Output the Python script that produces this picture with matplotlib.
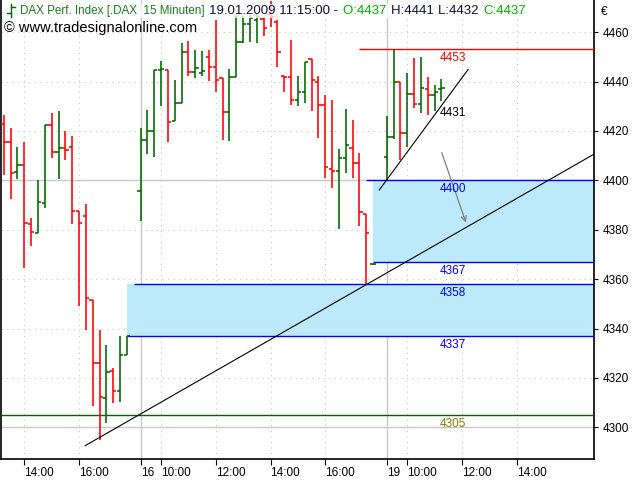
import matplotlib
matplotlib.use("Agg")
import matplotlib.pyplot as plt
from matplotlib.lines import Line2D

# 15-minute slots: 0 = 15.01. 13:15, one empty slot at each day break
slot = [0, 1, 2, 3, 4, 5, 6, 7, 8, 9, 10, 11, 12, 13, 14, 15, 16, 17, 18,
        20, 21, 22, 23, 24, 25, 26, 27, 28, 29, 30, 31, 32, 33, 34, 35, 36, 37,
        38, 39, 40, 41, 42, 43, 44, 45, 46, 47, 48, 49, 50, 51, 52, 53, 54,
        56, 57, 58, 59, 60, 61, 62, 63, 64]
opens = [4422.8, 4415.6, 4403.4, 4406.1, 4382.3, 4378.5, 4390.7, 4422.4, 4411.3, 4413.0,
         4413.4, 4387.6, 4385.7, 4351.5, 4325.9, 4311.7, 4322.9, 4314.7, 4329.3,
         4395.7, 4416.3, 4420.0, 4444.7, 4444.7, 4424.1, 4431.2, 4451.8, 4443.7, 4443.6,
         4450.0, 4445.7, 4441.3, 4427.5, 4441.7, 4456.1, 4463.3, 4464.9, 4465.3, 4467.3,
         4464.1, 4442.4, 4441.8, 4432.5, 4435.9, 4449.1, 4439.8, 4430.5, 4404.5, 4403.8,
         4408.9, 4413.1, 4407.1, 4386.2, 4366.0,
         4409.3, 4417.4, 4439.9, 4419.0, 4434.9, 4430.9, 4436.8, 4434.5, 4436.8]
highs = [4426.4, 4421.1, 4413.4, 4415.6, 4384.6, 4400.1, 4422.4, 4427.4, 4428.1, 4420.0,
         4417.9, 4387.6, 4390.3, 4351.5, 4339.4, 4333.3, 4323.9, 4337.0, 4337.0,
         4421.1, 4428.5, 4444.7, 4448.3, 4444.7, 4440.6, 4455.5, 4456.4, 4452.8, 4452.3,
         4452.8, 4464.9, 4441.3, 4445.1, 4466.9, 4466.5, 4466.9, 4467.3, 4466.1, 4472.6,
         4464.9, 4442.4, 4456.8, 4442.2, 4447.8, 4449.1, 4442.2, 4434.5, 4432.5, 4412.7,
         4428.9, 4424.4, 4411.2, 4386.2, 4366.2,
         4426.0, 4453.0, 4439.9, 4443.3, 4449.4, 4450.0, 4441.7, 4438.6, 4441.0]
lows = [4402.1, 4392.4, 4400.5, 4364.6, 4373.5, 4378.5, 4388.9, 4409.1, 4400.5, 4408.2,
        4382.3, 4349.1, 4339.4, 4308.6, 4294.9, 4301.9, 4309.7, 4310.4, 4329.3,
        4383.6, 4410.6, 4409.6, 4430.1, 4415.6, 4424.1, 4431.2, 4442.3, 4441.3, 4442.2,
        4440.2, 4435.9, 4416.3, 4416.0, 4441.7, 4455.5, 4455.9, 4455.7, 4458.5, 4461.9,
        4445.9, 4435.9, 4430.5, 4430.1, 4431.2, 4428.1, 4417.0, 4400.8, 4397.0, 4380.2,
        4402.8, 4400.9, 4381.6, 4357.5, 4365.8,
        4400.1, 4416.7, 4408.2, 4413.6, 4429.1, 4427.4, 4426.4, 4428.2, 4432.0]
closes = [4415.6, 4402.8, 4406.1, 4382.6, 4378.9, 4391.1, 4422.4, 4411.3, 4413.0, 4412.1,
          4387.6, 4382.6, 4352.2, 4325.9, 4312.1, 4322.5, 4314.7, 4329.3, 4337.0,
          4416.3, 4420.0, 4444.7, 4445.1, 4423.7, 4431.2, 4451.8, 4443.7, 4445.6, 4444.1,
          4445.7, 4440.6, 4427.5, 4441.7, 4456.1, 4463.3, 4465.7, 4466.1, 4461.7, 4466.1,
          4451.8, 4442.0, 4432.5, 4435.9, 4447.8, 4440.6, 4430.5, 4405.5, 4403.8, 4408.9,
          4414.3, 4407.2, 4387.3, 4378.5, 4366.1,
          4417.4, 4439.9, 4419.0, 4434.9, 4430.9, 4437.2, 4434.5, 4435.9, 4437.2]

tick_slots = [3, 11, 20, 23, 31, 39, 47, 56, 59, 67, 75]
tick_labels = ["14:00", "16:00", "16", "10:00", "12:00", "14:00", "16:00",
               "19", "10:00", "12:00", "14:00"]
day_slots = [20, 56]
price_ticks = [4300, 4320, 4340, 4360, 4380, 4400, 4420, 4440, 4460]

# drawn levels
zone_top = [4400, 4358]
zone_bottom = [4367, 4337]
zone_from = [54, 18]
line_prices = [4400, 4367, 4358, 4337]
line_from = [53, 54, 19, 18]
resist_price = 4453
resist_from = 52
support_price = 4305
label_slot = 63.8
trend_long = ([11.9, 86.3], [4292.6, 4410.6])
trend_short = ([54.9, 67.9], [4396.1, 4444.9])
arrow_from = (63.9, 4412.3)
arrow_to = (67.7, 4381.9)

RED = "#FF0000"
GREEN = "#006400"
BLUE = "#0000FF"
ZONE = "#BDEAFA"
GRID = "#C8C8C8"
FONT = "Liberation Sans"

plt.rcParams.update({"font.family": FONT, "font.size": 8})

fig = plt.figure(figsize=(6.4, 4.8), dpi=100)
ax = fig.add_axes([1 / 640, 21 / 480, 593 / 640, 459 / 480])
x0, x1 = -0.41, 86.3
ax.set_xlim(x0, x1)
ax.set_ylim(4287.2, 4473.0)

# grid
for s in tick_slots:
    if s in day_slots:
        ax.axvline(s, color=GRID, lw=1, zorder=0)
    else:
        ax.axvline(s, color=GRID, lw=0.8, ls=(0, (1, 4)), zorder=0)
for p in price_ticks:
    if p % 100 == 0:
        ax.axhline(p, color=GRID, lw=1, zorder=0)
    else:
        ax.axhline(p, color=GRID, lw=0.8, ls=(0, (1, 4)), zorder=0)

# zones and levels
for top, bot, s in zip(zone_top, zone_bottom, zone_from):
    ax.fill_between([s, x1], bot, top, color=ZONE, lw=0, zorder=1)
for p, s in zip(line_prices, line_from):
    ax.hlines(p, s, x1, color=BLUE, lw=1, zorder=3)
ax.hlines(resist_price, resist_from, x1, color=RED, lw=1, zorder=3)
ax.axhline(support_price, color=GREEN, lw=1, zorder=3)

# OHLC bars
w = 0.47
for s, o, h, l, c in zip(slot, opens, highs, lows, closes):
    col = GREEN if c >= o else RED
    ax.vlines(s, l, h, color=col, lw=1.15, zorder=4)
    ax.hlines(o, s - w, s, color=col, lw=1.15, zorder=4)
    ax.hlines(c, s, s + w, color=col, lw=1.15, zorder=4)

# trend lines and arrow
ax.plot(*trend_long, color="black", lw=0.8, zorder=5)
ax.plot(*trend_short, color="black", lw=0.8, zorder=5)
ax.annotate("", xy=arrow_to, xytext=arrow_from, zorder=5,
            arrowprops=dict(arrowstyle="->", color="#808080", lw=0.9,
                            mutation_scale=9))

# level labels
labels = [("4453", resist_price, RED), ("4431", 4431, "black"),
          ("4400", 4400, BLUE), ("4367", 4367, BLUE), ("4358", 4358, BLUE),
          ("4337", 4337, BLUE), ("4305", support_price, "#808000")]
for txt, p, col in labels:
    ax.annotate(txt, xy=(label_slot, p), xytext=(0, -2), textcoords="offset points",
                ha="left", va="top", color=col, fontsize=8.5, zorder=6)

# axes
ax.spines["top"].set_visible(False)
for sp in ("left", "right", "bottom"):
    ax.spines[sp].set_linewidth(1.2)
ax.yaxis.tick_right()
ax.set_yticks(price_ticks)
ax.set_yticklabels([str(p) for p in price_ticks])
ax.tick_params(axis="y", length=3, pad=3, labelsize=8.5)
ax.set_xticks(tick_slots)
ax.set_xticklabels(tick_labels, ha="left")
ax.tick_params(axis="x", length=4, pad=2, labelsize=8.5)
fig.text(601 / 640, 1 - 12 / 480, "€", fontsize=8.5, va="center", ha="left")

# header
box = dict(facecolor="white", alpha=0.75, edgecolor="none", pad=1)
header = [("DAX Perf. Index [.DAX  15 Minuten] ", "#1E7A1E", 8.4),
          ("19.01.2009 11:15:00 - ", "#101030", 9.5),
          ("O:4437 ", "#00B000", 9.5), ("H:4441 ", "#101030", 9.5),
          ("L:4432 ", "#101030", 9.5), ("C:4437", "#00B000", 9.5)]
renderer = fig.canvas.get_renderer()
xpos = 20
for txt, col, fs in header:
    t = fig.text(xpos / 640, 1 - 11 / 480, txt, color=col, fontsize=fs, va="center",
                 ha="left", bbox=box, zorder=10)
    xpos = t.get_window_extent(renderer).x1 + 1
fig.text(4 / 640, 1 - 28 / 480, "© www.tradesignalonline.com", fontsize=10.5,
         va="center", ha="left", zorder=10)
# small bar symbol in front of the title
fig.add_artist(Line2D([11 / 640, 11 / 640], [1 - 4 / 480, 1 - 17 / 480], color=GREEN, lw=1))
fig.add_artist(Line2D([7 / 640, 11 / 640], [1 - 13 / 480, 1 - 13 / 480], color=GREEN, lw=1))
fig.add_artist(Line2D([11 / 640, 15 / 640], [1 - 7 / 480, 1 - 7 / 480], color=GREEN, lw=1))

fig.savefig("out.png", dpi=100)
